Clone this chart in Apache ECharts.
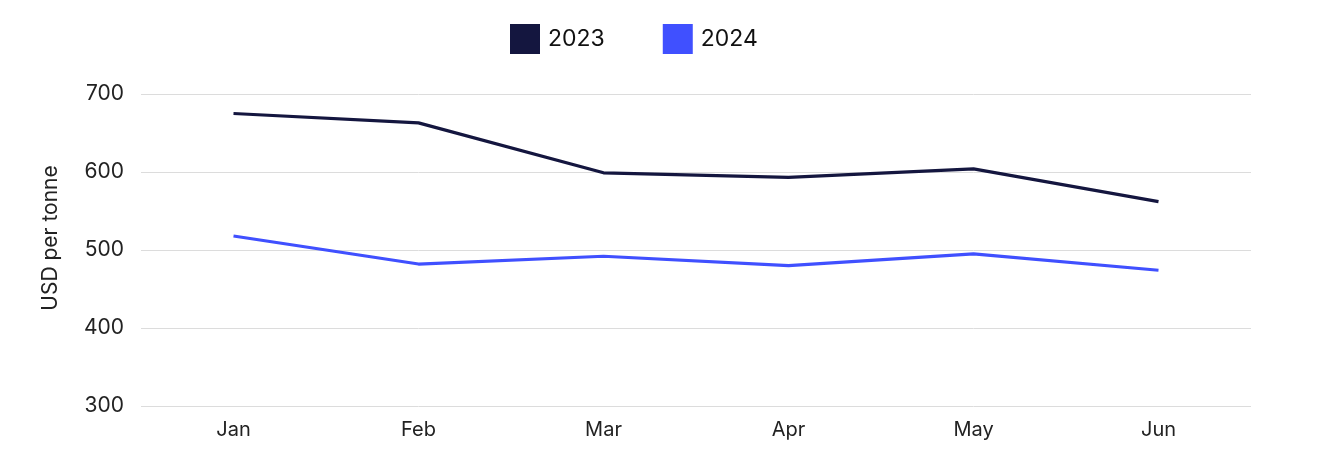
<!DOCTYPE html>
<html>
<head>
<meta charset="utf-8">
<script src="https://cdn.jsdelivr.net/npm/echarts@6/dist/echarts.min.js"></script>
<style>
html,body{margin:0;padding:0;background:#fff;}
#chart{width:1320px;height:473px;}
</style>
</head>
<body>
<div id="chart"></div>
<script>
const categories = ['Jan', 'Feb', 'Mar', 'Apr', 'May', 'Jun'];
const values2023 = [675, 663, 599, 593, 604, 562];
const values2024 = [518, 482, 492, 480, 495, 474];
const seriesNames = ['2023', '2024'];
const colors = ['#14163f', '#4050ff'];

const chart = echarts.init(document.getElementById('chart'));
const fontFamily = 'Inter, "Noto Sans", sans-serif';
chart.setOption({
  animation: false,
  color: colors,
  textStyle: { fontFamily: fontFamily },
  legend: {
    top: 19,
    left: 505,
    icon: 'rect',
    itemWidth: 30,
    itemHeight: 30,
    itemGap: 58,
    textStyle: { fontSize: 23, color: '#111', fontFamily: fontFamily, padding: [0, 0, 0, 3] },
    data: seriesNames
  },
  grid: { left: 141, right: 69, top: 94, bottom: 67 },
  xAxis: {
    type: 'category',
    data: categories,
    boundaryGap: true,
    axisLine: { show: false },
    axisTick: { show: false },
    axisLabel: { fontSize: 20, color: '#222', margin: 14, fontFamily: fontFamily }
  },
  yAxis: {
    type: 'value',
    min: 300,
    max: 700,
    interval: 100,
    name: 'USD per tonne',
    nameLocation: 'middle',
    nameGap: 80,
    nameTextStyle: { fontSize: 21, color: '#222', fontFamily: fontFamily, padding: [0, 0, 0, 24] },
    axisLine: { show: false },
    axisTick: { show: false },
    axisLabel: { fontSize: 21, color: '#222', margin: 17, fontFamily: fontFamily },
    splitLine: { lineStyle: { color: '#dcdcdc', width: 1 } }
  },
  series: [
    {
      name: seriesNames[0], type: 'line', data: values2023,
      symbol: 'none', lineStyle: { width: 3.2, color: colors[0] },
      itemStyle: { color: colors[0] }
    },
    {
      name: seriesNames[1], type: 'line', data: values2024,
      symbol: 'none', lineStyle: { width: 3.2, color: colors[1] },
      itemStyle: { color: colors[1] }
    }
  ]
});
</script>
</body>
</html>
